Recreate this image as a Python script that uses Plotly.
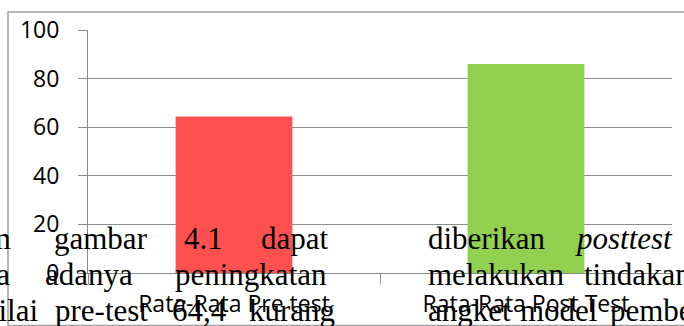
import plotly.graph_objects as go

categories = ["Rata-Rata Pre test", "Rata-Rata Post Test"]
values = [64.4, 86]
bar_colors = ["#FF5050", "#92D050"]
y_ticks = [0, 20, 40, 60, 80, 100]

# overlapping document text: (text, pixel x, anchor, line index)
doc_words = [
    ("dalam", 13, "right", 0), ("gambar", 52, "left", 0), ("4.1", 182, "left", 0),
    ("dapat", 259, "left", 0), ("diberikan", 426, "left", 0), ("<i>posttest</i>", 573, "left", 0),
    ("bahwa", 12, "right", 1), ("adanya", 43, "left", 1), ("peningkatan", 173, "left", 1),
    ("melakukan", 426, "left", 1), ("tindakan", 582, "left", 1),
    ("nilai", 40, "right", 2), ("pre-test", 53, "left", 2), ("64,4", 170, "left", 2),
    ("kurang", 247, "left", 2), ("angket", 426, "left", 2), ("model", 518, "left", 2),
    ("pembelajaran", 608, "left", 2),
]
line_mid_px = [238, 274, 310]

W, H = 684, 326
L, R, T, B = 88, 12, 30, 53
pw, ph = W - L - R, H - T - B

def px(x):
    return (x - L) / pw

def py(y):
    return (H - B - y) / ph

fig = go.Figure(go.Bar(x=categories, y=values, marker=dict(color=bar_colors, line=dict(width=0)),
                       width=0.4))

grid = "#8c8c8c"
fig.update_layout(
    width=W, height=H, margin=dict(l=L, r=R, t=T, b=B, autoexpand=False),
    paper_bgcolor="white", plot_bgcolor="white", showlegend=False,
    xaxis=dict(showgrid=False, showline=True, linecolor=grid, linewidth=1, automargin=False,
               ticks="outside", tickson="boundaries", ticklen=10, tickcolor=grid,
               tickfont=dict(family="Open Sans", size=23, color="black"),
               ticklabelstandoff=10),
    yaxis=dict(range=[0, 100], tickvals=y_ticks, showgrid=True, gridcolor=grid, gridwidth=1,
               showline=True, linecolor=grid, linewidth=1, zeroline=False, automargin=False,
               ticks="outside", ticklen=9, tickcolor=grid,
               tickfont=dict(family="Open Sans", size=23, color="black"),
               ticklabelstandoff=14),
)

fig.add_shape(type="rect", xref="paper", yref="paper",
              x0=px(8), x1=px(700), y0=py(325.5), y1=py(12),
              line=dict(color="#a0a0a0", width=1.5), layer="below")

for text, x, anchor, li in doc_words:
    fig.add_annotation(text=text, xref="paper", yref="paper", x=px(x), y=py(line_mid_px[li]),
                       xanchor=anchor, yanchor="middle", showarrow=False,
                       font=dict(family="Liberation Serif", size=31, color="black"))

fig.write_html("out.html")
